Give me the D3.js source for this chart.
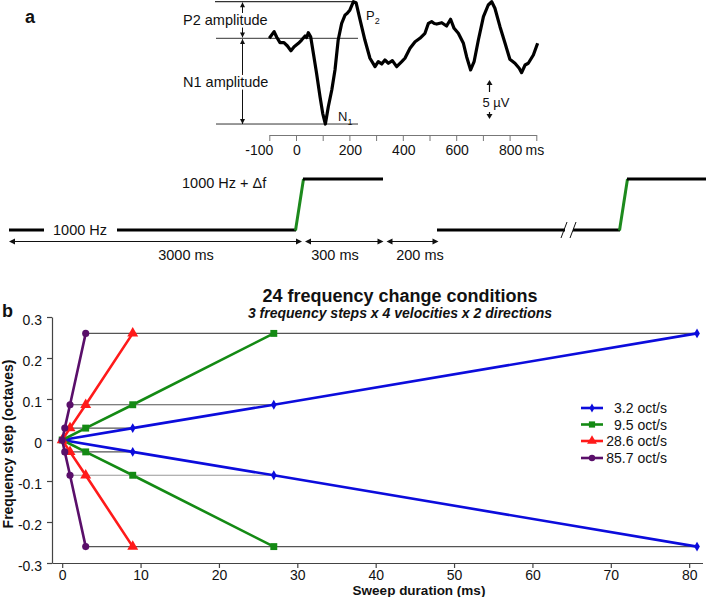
<!DOCTYPE html>
<html><head><meta charset="utf-8">
<script src="https://cdn.jsdelivr.net/npm/d3@7"></script>
<style>
body{margin:0;background:#fff}
svg{display:block}
text{font-family:"Liberation Sans",Arial,Helvetica,sans-serif;fill:#111}
</style>
</head><body>
<svg id="c" width="706" height="597"></svg>
<script>
// ================= DATA =================
// Panel a: grand-average ERP waveform (ms, µV)
const erpTimes  = [-100,-82,-72,-60,-45,-32,-19,-7,9,21,34,40,46,55,65,77,90,100,110,121,134,146,158,171,184,192,202,215,225,240,258,277,296,308,321,333,346,361,377,396,408,427,446,464,483,496,508,518,527,546,564,579,592,608,627,639,654,667,683,702,720,733,745,764,783,801,820,836,845,858,870,889,905];
const erpValues = [0,0.85,0.13,-0.56,-0.56,-0.99,-1.59,-1.08,-0.64,-0.22,0.29,0.1,0.72,0.2,-1.92,-4.49,-7.49,-9.62,-10.99,-8.77,-6.63,-4.06,-0.22,1.92,2.99,3.2,3.63,4.69,4.56,2.35,-0.22,-2.56,-3.64,-3.0,-3.29,-2.78,-3.2,-2.87,-3.64,-3.0,-2.56,-1.28,-0.44,0,0.64,1.92,2.13,1.9,1.83,2.0,1.58,2.44,1.28,0.64,-0.64,-2.36,-4.06,-3.0,-0.22,2.77,4.27,4.69,3.85,1.49,-0.64,-2.69,-3.2,-3.85,-4.41,-3.42,-3.2,-2.14,-0.64];
const erpTickValues = [-100,0,100,200,300,400,500,600,700,800,900];
const erpTickLabels = ["-100","0","","200","","400","","600","","800",""];
const erpUnit = "ms";
const componentLabels = ["P","2","N","1"];
const amplitudeLabels = ["P2 amplitude","N1 amplitude"];
const scaleBarValue = 5;            // µV
const scaleBarLabel = "5 µV";
// Panel a: stimulus timeline
const toneLabels = ["1000 Hz","1000 Hz + Δf"];
const intervalLabels = ["3000 ms","300 ms","200 ms"];

// Panel b: 24 frequency change conditions
const velocityLabels = ["3.2 oct/s","9.5 oct/s","28.6 oct/s","85.7 oct/s"];
const frequencySteps = [0.029, 0.086, 0.26];      // octaves
const durations32  = [9, 27, 81];                 // ms
const durations95  = [3, 9, 27];
const durations286 = [1, 3, 9];
const durations857 = [0.33, 1, 3];
const xTickValues = [0,10,20,30,40,50,60,70,80];
const yTickValues = [-0.3,-0.2,-0.1,0,0.1,0.2,0.3];
const titleText = "24 frequency change conditions";
const subtitleText = "3 frequency steps x 4 velocities x 2 directions";
const xLabel = "Sweep duration (ms)";
const yLabel = "Frequency step (octaves)";

// ================= DRAW =================
const svg = d3.select("#c");

function arrowHead(g, x, y, dir, len, half, color) {
  len = len || 6; half = half || 3; color = color || "#111";
  let p;
  if (dir === "up")    p = [[x,y],[x-half,y+len],[x+half,y+len]];
  if (dir === "down")  p = [[x,y],[x-half,y-len],[x+half,y-len]];
  if (dir === "left")  p = [[x,y],[x+len,y-half],[x+len,y+half]];
  if (dir === "right") p = [[x,y],[x-len,y-half],[x-len,y+half]];
  g.append("path").attr("d", d3.line()(p) + "Z").attr("fill", color);
}

// ---------- Panel a ----------
const ga = svg.append("g");
ga.append("text").attr("x", 25).attr("y", 23).attr("font-size", 18).attr("font-weight", "bold").text("a");

const xErp = d3.scaleLinear().domain([-100, 900]).range([269.3, 536.3]);
const yErp = d3.scaleLinear().domain([0, 5]).range([38.3, -0.7]);

const p2 = d3.max(erpValues), n1 = d3.min(erpValues);
const p2t = erpTimes[erpValues.indexOf(p2)], n1t = erpTimes[erpValues.indexOf(n1)];

// reference lines
const refColor = "#333";
ga.append("line").attr("x1", 215).attr("x2", xErp(p2t)).attr("y1", yErp(p2)).attr("y2", yErp(p2)).attr("stroke", refColor).attr("stroke-width", 1.2);
ga.append("line").attr("x1", 216).attr("x2", 358).attr("y1", yErp(0)).attr("y2", yErp(0)).attr("stroke", refColor).attr("stroke-width", 1);
ga.append("line").attr("x1", 216).attr("x2", 358).attr("y1", yErp(n1)).attr("y2", yErp(n1)).attr("stroke", refColor).attr("stroke-width", 1);

// amplitude arrows
const ax = 242.5;
ga.append("line").attr("x1", ax).attr("x2", ax).attr("y1", yErp(p2) + 1).attr("y2", yErp(0) - 1).attr("stroke", "#111").attr("stroke-width", 1);
ga.append("line").attr("x1", ax).attr("x2", ax).attr("y1", yErp(0) + 1).attr("y2", yErp(n1)).attr("stroke", "#111").attr("stroke-width", 1);
arrowHead(ga, ax, yErp(p2) + 0.5, "up", 5, 2.5);
arrowHead(ga, ax, yErp(0) - 0.8, "down", 5, 2.5);
arrowHead(ga, ax, yErp(0) + 0.8, "up", 5, 2.5);
arrowHead(ga, ax, yErp(n1), "down", 5, 2.5);

ga.append("text").attr("x", 183).attr("y", 25).attr("font-size", 14.5)
  .attr("stroke", "#fff").attr("stroke-width", 5).attr("paint-order", "stroke").text(amplitudeLabels[0]);
ga.append("text").attr("x", 183).attr("y", 87).attr("font-size", 14.5)
  .attr("stroke", "#fff").attr("stroke-width", 5).attr("paint-order", "stroke").text(amplitudeLabels[1]);

// waveform
ga.append("path")
  .datum(erpTimes.map((t, i) => [t, erpValues[i]]))
  .attr("d", d3.line().x(d => xErp(d[0])).y(d => yErp(d[1])).curve(d3.curveLinear))
  .attr("fill", "none").attr("stroke", "#000").attr("stroke-width", 3.2).attr("stroke-linejoin", "round");

// component labels
const tP = ga.append("text").attr("x", 366).attr("y", 20).attr("font-size", 13);
tP.append("tspan").text(componentLabels[0]);
tP.append("tspan").attr("font-size", 9).attr("dy", 4).text(componentLabels[1]);
const tN = ga.append("text").attr("x", 338).attr("y", 121).attr("font-size", 13);
tN.append("tspan").text(componentLabels[2]);
tN.append("tspan").attr("font-size", 9).attr("dy", 4).text(componentLabels[3]);

// ERP time axis
const gErpAxis = ga.append("g").attr("transform", "translate(0,135)")
  .call(d3.axisBottom(xErp).tickValues(erpTickValues).tickSize(6).tickSizeOuter(0).tickFormat(""));
gErpAxis.select(".domain").attr("stroke", "#777").attr("stroke-width", 1);
gErpAxis.selectAll(".tick line").attr("stroke", "#777");
erpTickValues.forEach((v, i) => {
  const lab = erpTickLabels[i];
  if (!lab) return;
  if (v < 0) {
    ga.append("text").attr("x", xErp(v) + 4).attr("y", 155).attr("font-size", 14).attr("text-anchor", "end").text(lab);
  } else {
    ga.append("text").attr("x", xErp(v) + 1).attr("y", 155).attr("font-size", 14).attr("text-anchor", "middle").text(lab);
  }
  if (i === erpTickLabels.length - 2) {
    ga.append("text").attr("x", xErp(v) + 16).attr("y", 155).attr("font-size", 14).text(erpUnit);
  }
});

// 5 µV scale bar
const sbx = 489.5, sbTop = 80, sbBottom = sbTop + (yErp(0) - yErp(scaleBarValue));
ga.append("line").attr("x1", sbx).attr("x2", sbx).attr("y1", sbTop + 4).attr("y2", sbTop + 12).attr("stroke", "#111").attr("stroke-width", 1.2);
arrowHead(ga, sbx, sbTop, "up", 5, 3);
ga.append("line").attr("x1", sbx).attr("x2", sbx).attr("y1", sbBottom - 7).attr("y2", sbBottom - 3).attr("stroke", "#111").attr("stroke-width", 1.2);
arrowHead(ga, sbx, sbBottom, "down", 5, 3);
ga.append("text").attr("x", 496).attr("y", 107).attr("font-size", 13).attr("text-anchor", "middle").text(scaleBarLabel);

// Stimulus timeline
const lowY = 230, highY = 179, arrY = 241.5;
const tl = ga.append("g");
const thick = (x1, y1, x2, y2, c) => tl.append("line").attr("x1", x1).attr("y1", y1).attr("x2", x2).attr("y2", y2)
  .attr("stroke", c || "#000").attr("stroke-width", 3);
thick(9, lowY, 44, lowY);
thick(117, lowY, 296, lowY);
thick(295.5, lowY + 0.5, 303.5, highY, "#1d8a1d");
thick(303, highY, 383, highY);
thick(437, lowY, 565, lowY);
thick(573, lowY, 620, lowY);
thick(619.5, lowY + 0.5, 627.5, highY, "#1d8a1d");
thick(627, highY, 706, highY);
// break marks
tl.append("line").attr("x1", 561).attr("y1", 238).attr("x2", 567).attr("y2", 222).attr("stroke", "#111").attr("stroke-width", 1);
tl.append("line").attr("x1", 570).attr("y1", 238).attr("x2", 576).attr("y2", 222).attr("stroke", "#111").attr("stroke-width", 1);

tl.append("text").attr("x", 53).attr("y", 235).attr("font-size", 14.5).text(toneLabels[0]);
tl.append("text").attr("x", 182).attr("y", 188).attr("font-size", 14.5).text(toneLabels[1]);

const intervals = [[9, 302], [305, 383.5], [386.5, 438.5]];
const intervalCenters = [186, 335, 420];
intervals.forEach((seg, i) => {
  tl.append("line").attr("x1", seg[0] + 2).attr("x2", seg[1] - 2).attr("y1", arrY).attr("y2", arrY).attr("stroke", "#111").attr("stroke-width", 1);
  arrowHead(tl, seg[0], arrY, "left", 6, 3);
  arrowHead(tl, seg[1], arrY, "right", 6, 3);
  tl.append("text").attr("x", intervalCenters[i]).attr("y", 260).attr("font-size", 14.5).attr("text-anchor", "middle").text(intervalLabels[i]);
});

// ---------- Panel b ----------
const gb = svg.append("g");
gb.append("text").attr("x", 2).attr("y", 317).attr("font-size", 18).attr("font-weight", "bold").text("b");

const x = d3.scaleLinear().domain([-1.3, 81.7]).range([52, 702.5]);
const y = d3.scaleLinear().domain([-0.3, 0.3]).range([563, 317]);

// axes
const gx = gb.append("g").attr("transform", `translate(0,${y(-0.3)})`)
  .call(d3.axisBottom(x).tickValues(xTickValues).tickSize(5).tickSizeOuter(0).tickPadding(2).tickFormat(d => String(d)));
const gy = gb.append("g").attr("transform", `translate(${x(-1.3)},0)`)
  .call(d3.axisLeft(y).tickValues(yTickValues).tickSize(5).tickSizeOuter(0).tickPadding(5)
    .tickFormat(d => d === 0 ? "0" : d.toFixed(1)));
[gx, gy].forEach(g => {
  g.select(".domain").attr("stroke", "#444").attr("stroke-width", 1.2);
  g.selectAll(".tick line").attr("stroke", "#444").attr("stroke-width", 1.2);
  g.selectAll(".tick text").attr("font-size", 14).attr("fill", "#111")
    .attr("font-family", '"Liberation Sans",Arial,Helvetica,sans-serif');
});
gy.selectAll(".tick text").attr("dy", "0.55em");

// horizontal reference lines per frequency step (both directions)
const allDur = [durations32, durations95, durations286, durations857];
frequencySteps.forEach((s, i) => {
  const xmin = d3.min(allDur, d => d[i]), xmax = d3.max(allDur, d => d[i]);
  [1, -1].forEach(sign => {
    gb.append("line").attr("x1", x(xmin)).attr("x2", x(xmax)).attr("y1", y(sign * s)).attr("y2", y(sign * s))
      .attr("stroke", sign < 0 && i === 1 ? "#999" : "#555").attr("stroke-width", 1.1);
  });
});

const seriesColors = ["#0c0cdc", "#148a14", "#ff1a1a", "#5a0f6a"];
const seriesSymbols = [d3.symbolDiamond, d3.symbolSquare, d3.symbolTriangle, d3.symbolCircle];
const symbolSizes = [28, 48, 52, 40];

allDur.forEach((dur, k) => {
  const pts = [];
  for (let i = dur.length - 1; i >= 0; i--) pts.push([dur[i], -frequencySteps[i]]);
  pts.push([0, 0]);
  for (let i = 0; i < dur.length; i++) pts.push([dur[i], frequencySteps[i]]);
  gb.append("path").datum(pts)
    .attr("d", d3.line().x(d => x(d[0])).y(d => y(d[1])))
    .attr("fill", "none").attr("stroke", seriesColors[k]).attr("stroke-width", 2.6).attr("stroke-linejoin", "round");
  gb.append("g").selectAll("path").data(pts).join("path")
    .attr("transform", d => `translate(${x(d[0])},${y(d[1])})`)
    .attr("d", d3.symbol().type(seriesSymbols[k]).size(symbolSizes[k]))
    .attr("fill", seriesColors[k]);
});

// titles
gb.append("text").attr("x", 400).attr("y", 302).attr("font-size", 18).attr("font-weight", "bold")
  .attr("text-anchor", "middle").text(titleText);
gb.append("text").attr("x", 400).attr("y", 318).attr("font-size", 14).attr("font-weight", "bold")
  .attr("font-style", "italic").attr("text-anchor", "middle").text(subtitleText);

// axis labels
gb.append("text").attr("x", 419).attr("y", 595).attr("font-size", 13.5).attr("font-weight", "bold")
  .attr("text-anchor", "middle").text(xLabel);
gb.append("text").attr("transform", "translate(13,444) rotate(-90)").attr("font-size", 14).attr("font-weight", "bold")
  .attr("text-anchor", "middle").text(yLabel);

// legend
const legY = [408, 424.5, 441, 458];
velocityLabels.forEach((lab, k) => {
  const lg = gb.append("g").attr("transform", `translate(0,${legY[k]})`);
  lg.append("line").attr("x1", 581).attr("x2", 603).attr("y1", 0).attr("y2", 0)
    .attr("stroke", seriesColors[k]).attr("stroke-width", 2.6);
  lg.append("path").attr("transform", "translate(592,0)")
    .attr("d", d3.symbol().type(seriesSymbols[k]).size(symbolSizes[k] * 0.8)).attr("fill", seriesColors[k]);
  lg.append("text").attr("x", 667).attr("y", 0).attr("dy", "0.36em").attr("font-size", 14)
    .attr("text-anchor", "end").text(lab);
});
</script>
</body></html>
